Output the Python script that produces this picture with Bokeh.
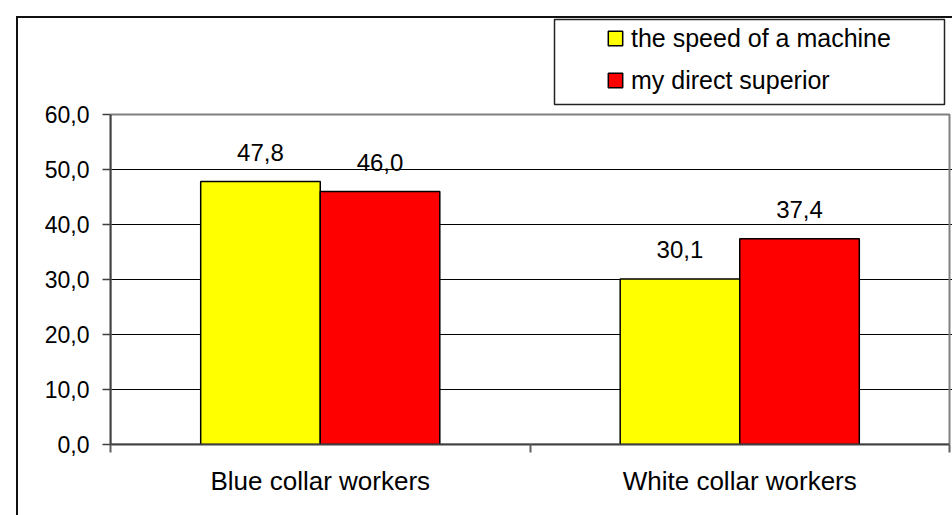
from bokeh.plotting import figure
from bokeh.models import (ColumnDataSource, Range1d, FixedTicker, Legend, LegendItem,
                          BoxAnnotation, LabelSet)
from bokeh.core.properties import value
from bokeh.embed import file_html
from bokeh.resources import INLINE

categories = ["Blue collar workers", "White collar workers"]
series_names = ["the speed of a machine", "my direct superior"]
speed_machine = [47.8, 30.1]
direct_superior = [46.0, 37.4]
series_colors = ["#FFFF00", "#FF0000"]
y_ticks = [0, 10, 20, 30, 40, 50, 60]

FONT = "Liberation Sans"
W, H = 952, 515

def fmt(v):
    return f"{v:.1f}".replace(".", ",")

# layout geometry (pixels)
frame_left, frame_top, frame_bottom = 110, 16, 444
plot_top_px, plot_right_px = 114, 949
n_cat = len(categories)
y_max = y_ticks[-1]
px_per_y = (frame_bottom - plot_top_px) / y_max
px_per_x = (plot_right_px - frame_left) / n_cat
y_end = (frame_bottom - frame_top) / px_per_y
x_end = (W - frame_left) / px_per_x

def dx(px):  # page x pixel -> data x
    return (px - frame_left) / px_per_x

def dy(py):  # page y pixel -> data y
    return (frame_bottom - py) / px_per_y

p = figure(width=W, height=H, output_backend="svg", toolbar_location=None,
           x_range=Range1d(0, x_end), y_range=Range1d(0, y_end),
           min_border_left=frame_left, min_border_top=frame_top, min_border_right=0,
           min_border_bottom=H - frame_bottom)
p.background_fill_alpha = 0
p.border_fill_alpha = 0
p.outline_line_color = None
# outer chart-area border (top and left edges; the rest lies outside the window)
p.styles = {
    "background-color": "white",
    "background-image": "linear-gradient(#111,#111), linear-gradient(#111,#111)",
    "background-position": "16px 16px, 16px 16px",
    "background-size": "100% 2px, 2px 100%",
    "background-repeat": "no-repeat",
}

# plot-area border
p.add_layout(BoxAnnotation(left=0, right=n_cat, bottom=0, top=y_max, fill_alpha=0,
                           line_color="#808080", line_alpha=1, line_width=2, level="underlay"))

bar_w = 0.285
centers = [i + 0.5 for i in range(n_cat)]
renderers = []
for k, (vals, col) in enumerate(zip([speed_machine, direct_superior], series_colors)):
    off = (k - 0.5) * bar_w
    src = ColumnDataSource(dict(x=[c + off for c in centers], top=vals,
                                lab=[fmt(v) for v in vals]))
    r = p.vbar(x="x", top="top", bottom=0, width=bar_w, source=src,
               fill_color=col, line_color="black", line_width=1.5)
    renderers.append(r)
    p.add_layout(LabelSet(x="x", y="top", text="lab", source=src, y_offset=21,
                          text_align="center", text_baseline="alphabetic",
                          text_font=value(FONT), text_font_size="24px", text_color="black"))

# axes
p.xaxis.ticker = FixedTicker(ticks=centers, minor_ticks=list(range(n_cat + 1)))
p.xaxis.major_label_overrides = {c: n for c, n in zip(centers, categories)}
p.xaxis.bounds = (0, n_cat)
p.xaxis.major_tick_out = 0
p.xaxis.major_tick_in = 0
p.xaxis.minor_tick_out = 8
p.xaxis.minor_tick_in = 0
p.xaxis.minor_tick_line_color = "#606060"
p.xaxis.minor_tick_line_width = 2
p.xaxis.axis_line_color = "#404040"
p.xaxis.axis_line_width = 2
p.xaxis.major_label_text_font = FONT
p.xaxis.major_label_text_font_size = "26px"
p.xaxis.major_label_text_color = "black"
p.xaxis.major_label_standoff = 13

p.yaxis.ticker = FixedTicker(ticks=y_ticks, minor_ticks=[])
p.yaxis.major_label_overrides = {t: fmt(t) for t in y_ticks}
p.yaxis.bounds = (0, y_max)
p.yaxis.major_tick_out = 8
p.yaxis.major_tick_in = 0
p.yaxis.major_tick_line_color = "#404040"
p.yaxis.major_tick_line_width = 1.5
p.yaxis.axis_line_color = "#404040"
p.yaxis.axis_line_width = 2
p.yaxis.major_label_text_font = FONT
p.yaxis.major_label_text_font_size = "23px"
p.yaxis.major_label_text_color = "black"
p.yaxis.major_label_standoff = 13

p.xgrid.visible = False
p.ygrid.ticker = FixedTicker(ticks=y_ticks[1:-1], minor_ticks=[])
p.ygrid.grid_line_color = "black"
p.ygrid.grid_line_width = 1

# legend
legend = Legend(items=[LegendItem(label=n, renderers=[r]) for n, r in zip(series_names, renderers)],
                location=(496, 349), padding=0, spacing=12, margin=0,
                glyph_width=18, glyph_height=18, label_standoff=7, label_height=30,
                label_text_font=FONT, label_text_font_size="25px", label_text_color="black",
                border_line_alpha=0, background_fill_alpha=0)
p.add_layout(legend, "center")
p.add_layout(BoxAnnotation(left=dx(554), right=dx(944), top=dy(19), bottom=dy(104),
                           fill_alpha=0, line_color="#222222", line_alpha=1, line_width=1.5))

open("out.html", "w").write(file_html(p, INLINE))
